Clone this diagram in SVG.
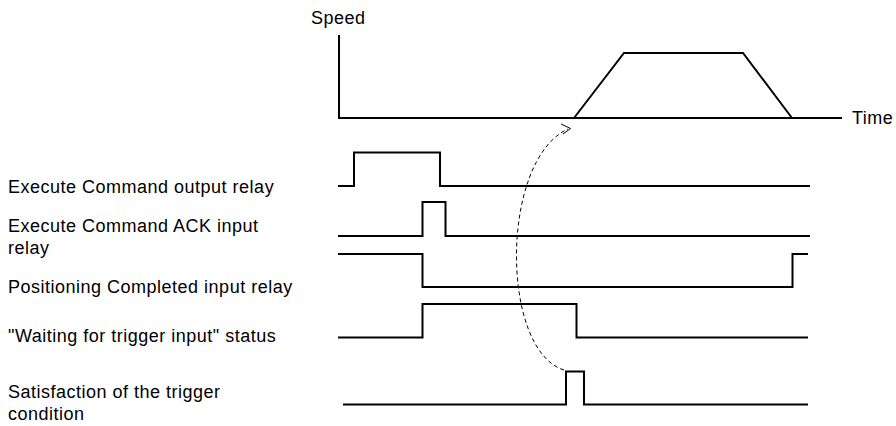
<svg xmlns="http://www.w3.org/2000/svg" width="896" height="426" viewBox="0 0 896 426">
<style>
.t{font-family:"Liberation Sans",Arial,sans-serif;font-size:18px;letter-spacing:0.5px;fill:#000}
.s{fill:none;stroke:#000;stroke-width:2;stroke-linejoin:miter;stroke-linecap:butt}
.d{fill:none;stroke:#000;stroke-width:1;stroke-dasharray:4 3}
.a{fill:none;stroke:#000;stroke-width:1}
</style>
<rect width="896" height="426" fill="#fff"/>
<g id="speed-chart">
<text class="t" x="311" y="24">Speed</text>
<text class="t" x="852" y="124">Time</text>
<polyline class="s" points="339,35 339,118 842,118"/>
<polyline class="s" points="574,118 624,53 743,53 792,118"/>
</g>
<g id="sig-exec-out">
<text class="t" x="8" y="193">Execute Command output relay</text>
<polyline class="s" points="338,186 354,186 354,152.5 440,152.5 440,186 810,186"/>
</g>
<g id="sig-exec-ack">
<text class="t" x="8" y="232">Execute Command ACK input</text>
<text class="t" x="8" y="253.5">relay</text>
<polyline class="s" points="338,236 422.5,236 422.5,202 445.5,202 445.5,236 810,236"/>
</g>
<g id="sig-pos-comp">
<text class="t" x="8" y="293">Positioning Completed input relay</text>
<polyline class="s" points="338,254 422.5,254 422.5,287 792.5,287 792.5,254 808,254"/>
</g>
<g id="sig-waiting">
<text class="t" x="8" y="342">"Waiting for trigger input" status</text>
<polyline class="s" points="338,337.5 422.5,337.5 422.5,304 576.5,304 576.5,337.5 808,337.5"/>
</g>
<g id="sig-trigger">
<text class="t" x="8" y="398">Satisfaction of the trigger</text>
<text class="t" x="8" y="419.5">condition</text>
<polyline class="s" points="343,404.5 566,404.5 566,371.5 584,371.5 584,404.5 808,404.5"/>
</g>
<g id="connectors">
<path class="d" d="M564,370 C500,350 500,160 568,129"/>
<polyline class="a" points="561,124 570.5,128.5 563,134"/>
</g>
</svg>
